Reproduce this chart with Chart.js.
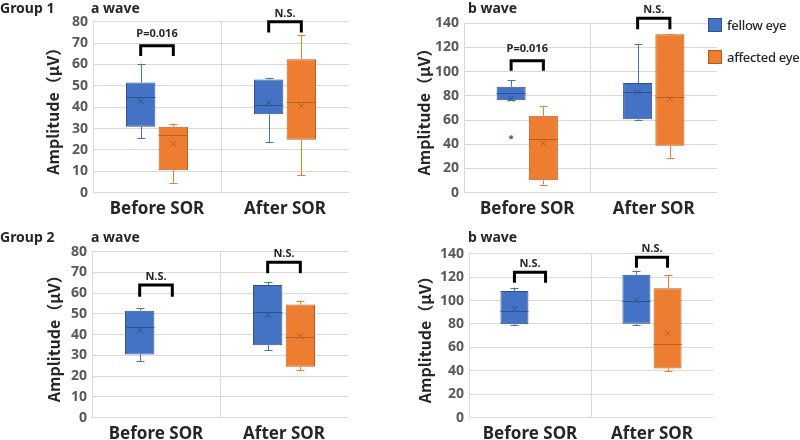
<!DOCTYPE html>
<html><head><meta charset="utf-8">
<script src="https://cdn.jsdelivr.net/npm/chart.js@4/dist/chart.umd.min.js"></script>
<style>
body{margin:0;background:#fff;width:800px;height:440px;overflow:hidden;position:relative;font-family:"Noto Sans","Noto Sans CJK JP",sans-serif;}
canvas{position:absolute;}
.t{position:absolute;font-weight:bold;color:#262626;font-size:14px;line-height:16px;white-space:nowrap;z-index:2;}
.lg{position:absolute;width:14px;height:14px;box-sizing:border-box;}
.lt{position:absolute;font-size:13px;line-height:16px;color:#262626;font-weight:500;letter-spacing:-0.3px;white-space:nowrap;}
</style></head>
<body>
<canvas id="c1" width="400" height="220" style="left:0;top:0"></canvas>
<canvas id="c2" width="400" height="220" style="left:400px;top:0"></canvas>
<canvas id="c3" width="400" height="220" style="left:0;top:220px"></canvas>
<canvas id="c4" width="400" height="220" style="left:400px;top:220px"></canvas>
<div class="t" style="left:0;top:0">Group 1</div>
<div class="t" style="left:91px;top:0">a wave</div>
<div class="t" style="left:468px;top:0">b wave</div>
<div class="t" style="left:0;top:229px">Group 2</div>
<div class="t" style="left:91px;top:229px">a wave</div>
<div class="t" style="left:468px;top:229px">b wave</div>
<div class="lg" style="left:708px;top:18px;background:#4472C4;border:1px solid #2F528F"></div>
<div class="lt" style="left:727px;top:17px">fellow eye</div>
<div class="lg" style="left:708px;top:50px;background:#ED7D31;border:1px solid #AE5A21"></div>
<div class="lt" style="left:727px;top:49px">affected eye</div>
<script>
const categories = ['Before SOR', 'After SOR'];
const seriesNames = ['fellow eye', 'affected eye'];
// each box: [min, q1, median, q3, max, mean]
const g1aFellow   = [[25.4, 30.9, 44.6, 51.5, 60.4, 42.9], [23.7, 36.7, 40.9, 53.0, 53.5, 42.3]];
const g1aAffected = [[4.7, 10.5, 27.0, 30.9, 32.3, 22.9], [8.1, 24.8, 42.4, 62.4, 73.9, 40.6]];
const g1bFellow   = [[76.4, 76.4, 82.4, 87.6, 92.9, 77.7], [60.1, 60.7, 83.2, 90.7, 122.6, 83.0]];
const g1bAffected = [[6.6, 10.2, 44.4, 63.6, 71.7, 40.8], [28.9, 38.8, 78.8, 130.9, 130.9, 77.7]];
const g2aFellow   = [[27.1, 30.5, 43.9, 51.6, 52.7, 42.1], [32.4, 34.9, 50.8, 63.9, 65.5, 49.6]];
const g2aAffected = [null, [22.8, 24.6, 39.0, 54.5, 56.4, 39.2]];
const g2bFellow   = [[78.8, 79.7, 90.8, 108.1, 111.0, 93.1], [78.8, 80.3, 99.3, 122.1, 125.5, 100.5]];
const g2bAffected = [null, [39.8, 42.1, 62.6, 110.4, 121.5, 72.0]];
const g1bFellowOutliers = [[45.8], []];
// significance brackets: label, bracket top value, leg bottom value
const g1aSigLabels = ['P=0.016', 'N.S.'];
const g1aSigTop = [68.8, 80.0];
const g1aSigLeg = [64.0, 75.0];
const g1bSigLabels = ['P=0.016', 'N.S.'];
const g1bSigTop = [109.1, 144.1];
const g1bSigLeg = [100.8, 135.0];
const g2aSigLabels = ['N.S.', 'N.S.'];
const g2aSigTop = [63.9, 74.9];
const g2aSigLeg = [58.3, 69.6];
const g2bSigLabels = ['N.S.', 'N.S.'];
const g2bSigTop = [124.1, 136.9];
const g2bSigLeg = [115.3, 128.0];

const FONT = '"Noto Sans","Noto Sans CJK JP",sans-serif';
Chart.defaults.font.family = FONT;

const boxPlugin = {
  id: 'boxWhiskers',
  afterDatasetsDraw(chart) {
    const ctx = chart.ctx, y = chart.scales.y;
    chart.data.datasets.forEach((ds, di) => {
      const meta = chart.getDatasetMeta(di);
      meta.data.forEach((el, i) => {
        const s = ds.boxStats[i];
        if (!s) return;
        const x = el.x, w = el.width;
        const [mn, q1, med, q3, mx, mean] = s;
        ctx.save();
        ctx.lineWidth = 1;
        ctx.strokeStyle = ds.whiskerColor;
        const px = Math.round(x) + 0.5;
        ctx.beginPath();
        ctx.moveTo(px, y.getPixelForValue(q3)); ctx.lineTo(px, y.getPixelForValue(mx));
        ctx.moveTo(px, y.getPixelForValue(q1)); ctx.lineTo(px, y.getPixelForValue(mn));
        [mn, mx].forEach(v => {
          const py = Math.round(y.getPixelForValue(v)) + 0.5;
          ctx.moveTo(px - 4, py); ctx.lineTo(px + 4, py);
        });
        ctx.stroke();
        ctx.strokeStyle = ds.borderColor;
        const pm = Math.round(y.getPixelForValue(med)) + 0.5;
        ctx.beginPath(); ctx.moveTo(x - w / 2, pm); ctx.lineTo(x + w / 2, pm); ctx.stroke();
        const my = y.getPixelForValue(mean);
        ctx.strokeStyle = ds.meanColor;
        ctx.beginPath();
        ctx.moveTo(x - 3, my - 3); ctx.lineTo(x + 3, my + 3);
        ctx.moveTo(x + 3, my - 3); ctx.lineTo(x - 3, my + 3);
        ctx.stroke();
        const outs = (ds.outliers && ds.outliers[i]) || [];
        outs.forEach(v => {
          ctx.fillStyle = ds.whiskerColor;
          ctx.beginPath(); ctx.arc(x, y.getPixelForValue(v), 2, 0, Math.PI * 2); ctx.fill();
        });
        ctx.restore();
      });
    });
  }
};

function bracketPlugin(labels, tops, legs) {
  return {
    id: 'brackets',
    afterDraw(chart) {
      const ctx = chart.ctx, y = chart.scales.y, xs = chart.scales.x;
      const m0 = chart.getDatasetMeta(0);
      labels.forEach((txt, i) => {
        const c = xs.getPixelForValue(i);
        const x1 = m0.data[i].x, x2 = 2 * c - x1;
        const yt = y.getPixelForValue(tops[i]), yl = y.getPixelForValue(legs[i]);
        ctx.save();
        ctx.strokeStyle = '#000'; ctx.lineWidth = 3; ctx.lineCap = 'butt'; ctx.lineJoin = 'miter';
        ctx.beginPath();
        ctx.moveTo(x1, yl); ctx.lineTo(x1, yt); ctx.lineTo(x2, yt); ctx.lineTo(x2, yl);
        ctx.stroke();
        ctx.fillStyle = '#262626';
        ctx.font = 'bold 11px ' + FONT;
        ctx.textAlign = 'center'; ctx.textBaseline = 'middle';
        ctx.fillText(txt, (x1 + x2) / 2, yt - (txt.charAt(0) === 'P' ? 12 : 8));
        ctx.restore();
      });
    }
  };
}

function makePanel(id, fellow, affected, outliers, ymax, step, area, titleX, sig) {
  const H = 220, W = 400;
  new Chart(document.getElementById(id), {
    type: 'bar',
    data: {
      labels: categories,
      datasets: [
        { label: seriesNames[0], data: fellow.map(b => b ? [b[1], b[3]] : null), boxStats: fellow, outliers: outliers,
          backgroundColor: '#4472C4', borderColor: '#2F528F', whiskerColor: '#4472C4', meanColor: '#2F528F',
          borderWidth: 1, borderSkipped: false },
        { label: seriesNames[1], data: affected.map(b => b ? [b[1], b[3]] : null), boxStats: affected, outliers: null,
          backgroundColor: '#ED7D31', borderColor: '#B85F24', whiskerColor: '#ED7D31', meanColor: '#B85F24',
          borderWidth: 1, borderSkipped: false }
      ]
    },
    options: {
      responsive: false, animation: false,
      categoryPercentage: 0.51, barPercentage: 0.9,
      layout: { padding: { left: 0, top: area.t, right: W - area.r, bottom: 0 } },
      plugins: { legend: { display: false }, tooltip: { enabled: false } },
      scales: {
        x: {
          grid: { color: ctx => ctx.index < 2 ? '#D9D9D9' : 'rgba(0,0,0,0)', drawTicks: false, offset: true },
          border: { display: false },
          ticks: { color: '#262626', font: { size: 17, weight: 'bold' }, padding: 6 },
          afterFit: s => { s.height = H - area.b; }
        },
        y: {
          min: 0, max: ymax,
          grid: { color: '#D9D9D9', drawTicks: false },
          border: { display: false },
          ticks: { stepSize: step, color: '#595959', font: { size: 14, weight: 'bold' }, padding: 5 },
          title: { display: true, text: 'Amplitude（μV）', color: '#262626',
                   font: { family: '"Noto Sans CJK JP","Noto Sans",sans-serif', size: 16, weight: '600' },
                   padding: { top: titleX - 10, bottom: 0 } },
          afterFit: s => { s.width = area.l; }
        }
      }
    },
    plugins: [boxPlugin, bracketPlugin(sig[0], sig[1], sig[2])]
  });
}

makePanel('c1', g1aFellow, g1aAffected, [[], []], 80, 10, { l: 93, t: 21.7, r: 349, b: 192.7 }, 53, [g1aSigLabels, g1aSigTop, g1aSigLeg]);
makePanel('c2', g1bFellow, g1bAffected, g1bFellowOutliers, 140, 20, { l: 64, t: 23.3, r: 317, b: 192.7 }, 24.5, [g1bSigLabels, g1bSigTop, g1bSigLeg]);
makePanel('c3', g2aFellow, g2aAffected, [[], []], 80, 10, { l: 92, t: 31.7, r: 348, b: 197.7 }, 54, [g2aSigLabels, g2aSigTop, g2aSigLeg]);
makePanel('c4', g2bFellow, g2bAffected, [[], []], 140, 20, { l: 69, t: 33.7, r: 313, b: 197.7 }, 25, [g2bSigLabels, g2bSigTop, g2bSigLeg]);
</script>
</body></html>
